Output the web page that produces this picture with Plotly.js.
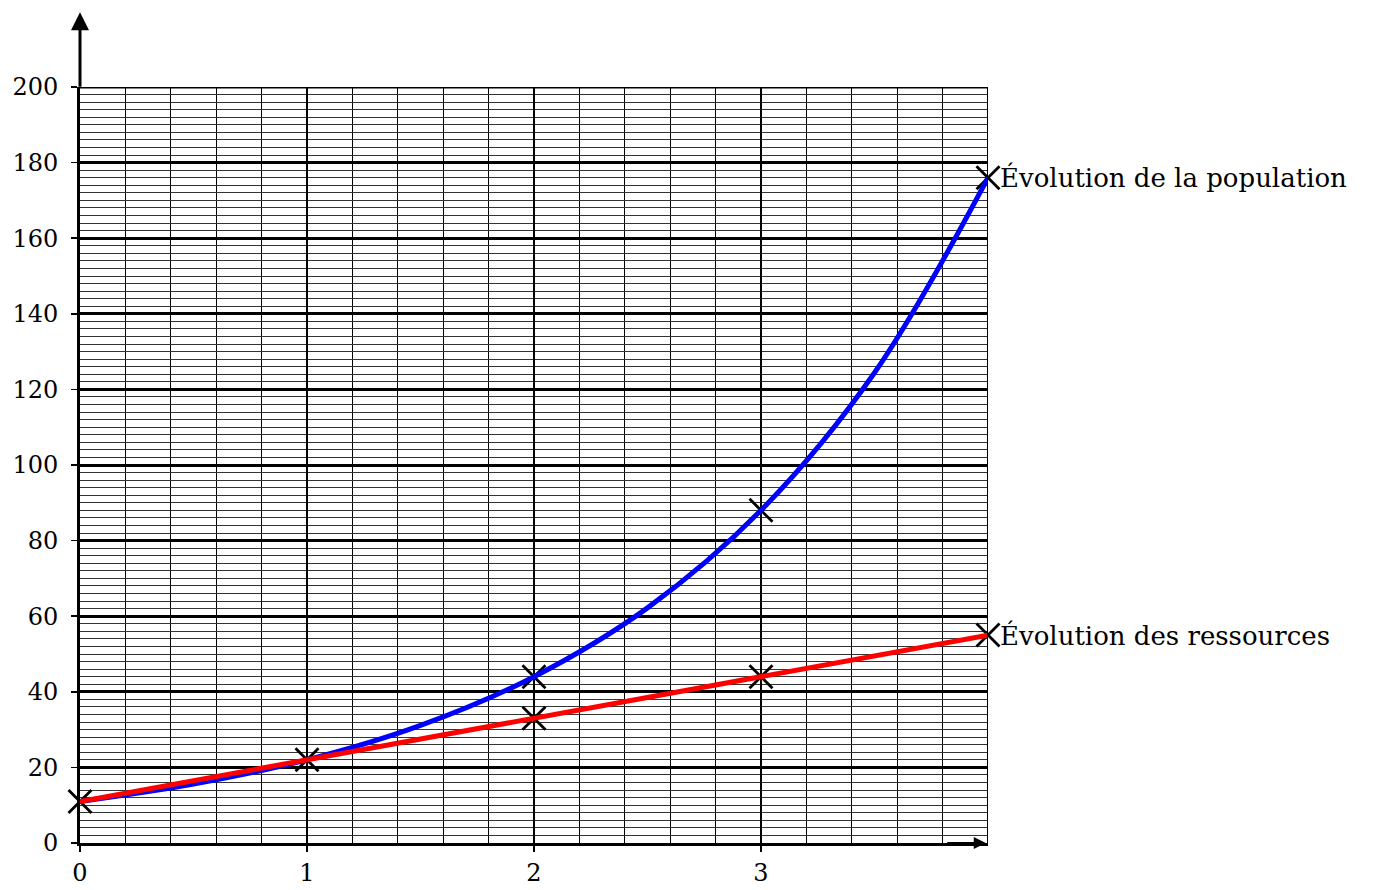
<!DOCTYPE html>
<html><head><meta charset="utf-8">
<script src="https://cdn.plot.ly/plotly-3.0.1.min.js"></script>
<style>html,body{margin:0;padding:0;background:#fff}</style>
</head><body><div id="chart" style="width:1373px;height:890px"></div>
<script>
// Data
const popX = [0, 0.5, 1, 1.5, 2, 2.5, 3, 3.5, 4];
const popY = [11, 15.6, 22, 31.1, 44, 62.2, 88, 124.4, 176];
const resX = [0, 1, 2, 3, 4];
const resY = [11, 22, 33, 44, 55];
const crossPopX = [0, 1, 2, 3, 4];
const crossPopY = [11, 22, 44, 88, 176];
const crossResX = [2, 3, 4];
const crossResY = [33, 44, 55];
const labelPop = "Évolution de la population";
const labelRes = "Évolution des ressources";
const xTicks = [0, 1, 2, 3];
const yTicks = [0, 20, 40, 60, 80, 100, 120, 140, 160, 180, 200];

const FONT = "DejaVu Serif";

const traces = [
  {x: crossPopX.concat(crossResX), y: crossPopY.concat(crossResY), mode: 'markers',
   marker: {symbol: 'x-thin', size: 23, line: {color: '#000', width: 2.8}, color: '#000'}, cliponaxis: false, hoverinfo: 'skip'},
  {x: popX, y: popY, mode: 'lines', line: {color: '#0000ff', width: 5, shape: 'spline'}, cliponaxis: false, hoverinfo: 'skip'},
  {x: resX, y: resY, mode: 'lines', line: {color: '#ff0000', width: 5}, cliponaxis: false, hoverinfo: 'skip'}
];

const layout = {
  width: 1373, height: 890,
  margin: {l: 80, r: 385, t: 87, b: 47},
  paper_bgcolor: '#fff', plot_bgcolor: '#fff',
  showlegend: false,
  font: {family: FONT, color: '#000', size: 24},
  xaxis: {
    range: [0, 4], tickmode: 'array', tickvals: xTicks, ticktext: xTicks.map(String),
    showgrid: true, gridcolor: '#000', gridwidth: 2,
    minor: {dtick: 0.2, showgrid: true, gridcolor: '#000', gridwidth: 1, ticks: ''},
    showline: true, linecolor: '#000', linewidth: 3, mirror: false,
    ticks: 'outside', ticklen: 6, tickwidth: 1.5, tickcolor: '#000',
    ticklabelstandoff: 0,
    zeroline: false, tickfont: {family: FONT, size: 24}
  },
  yaxis: {
    range: [0, 200], tickmode: 'array', tickvals: yTicks, ticktext: yTicks.map(String),
    showgrid: true, gridcolor: '#000', gridwidth: 3,
    minor: {dtick: 2, showgrid: true, gridcolor: '#333', gridwidth: 1, ticks: ''},
    showline: true, linecolor: '#000', linewidth: 3,
    ticks: 'outside', ticklen: 6, tickwidth: 1.5, tickcolor: '#000',
    ticklabelstandoff: 8,
    zeroline: false, tickfont: {family: FONT, size: 24}
  },
  shapes: [
    {type: 'line', xref: 'x', yref: 'paper', x0: 4, x1: 4, y0: 0, y1: 1, line: {color: '#000', width: 2}},
    {type: 'line', xref: 'paper', yref: 'y', x0: 0, x1: 1, y0: 200, y1: 200, line: {color: '#000', width: 3}}
  ],
  annotations: [
    {xref: 'x', yref: 'y', x: 4, y: crossPopY[4], text: labelPop, showarrow: false, xanchor: 'left', yanchor: 'middle', xshift: 10, yshift: 0, font: {family: FONT, size: 26}},
    {xref: 'x', yref: 'y', x: 4, y: crossResY[2], text: labelRes, showarrow: false, xanchor: 'left', yanchor: 'middle', xshift: 10, yshift: 0, font: {family: FONT, size: 26}},
    {xref: 'x', yref: 'paper', x: 0, y: 1.099, ax: 0, ay: 76, axref: 'pixel', ayref: 'pixel', text: '', showarrow: true, arrowhead: 2, arrowsize: 1.2, arrowwidth: 3, arrowcolor: '#000'},
    {xref: 'x', yref: 'y', x: 3.99, y: 0, ax: -40, ay: 0, text: '', showarrow: true, arrowhead: 2, arrowsize: 1.2, arrowwidth: 2, arrowcolor: '#000'}
  ]
};

Plotly.newPlot('chart', traces, layout, {displayModeBar: false, staticPlot: true});
</script></body></html>
